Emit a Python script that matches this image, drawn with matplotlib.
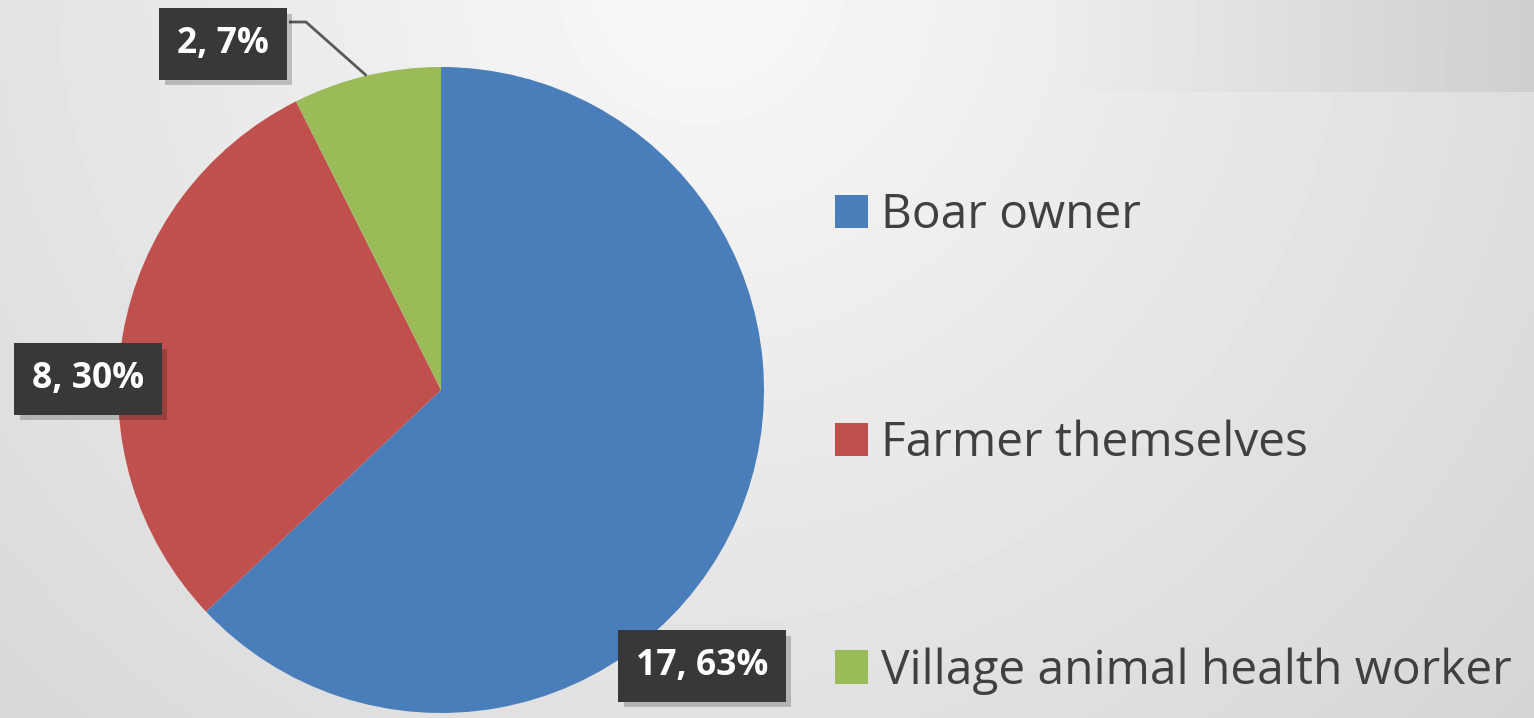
import numpy as np
import matplotlib.pyplot as plt
import matplotlib.patheffects as pe
from matplotlib.patches import Patch

labels = ["Boar owner", "Farmer themselves", "Village animal health worker"]
counts = [17, 8, 2]
colors = ["#4a7ebb", "#c0504d", "#9bbb59"]

W, H = 1534, 718
fig = plt.figure(figsize=(W / 100, H / 100), dpi=100)

# soft grey slide background
bg = fig.add_axes([0, 0, 1, 1])
xx, yy = np.meshgrid(np.arange(W), np.arange(H))
r = np.sqrt(((xx - 700) / 800.0) ** 2 + ((yy + 20) / 800.0) ** 2)
v = 0.975 - 0.1 * r
strip = (yy < 92) * np.clip((xx - 1050) / 480.0, 0, 1) * 0.06
v = v - strip
bg.imshow(v, cmap="gray", vmin=0, vmax=1, extent=(0, W, H, 0), aspect="auto")
bg.axis("off")

ax = fig.add_axes([0, 0, 1, 1])
ax.patch.set_alpha(0)
cx, cy, rad = 441, H - 390, 323
wedges, _ = ax.pie(counts, colors=colors, startangle=90, counterclock=False,
                   center=(cx, cy), radius=rad, wedgeprops=dict(linewidth=0))
ax.set_xlim(0, W)
ax.set_ylim(0, H)
ax.set_aspect("equal")
ax.axis("off")

total = sum(counts)
pcts = [round(c * 100 / total) for c in counts]
label_pos = [(702, H - 666), (88, H - 379), (223, H - 44)]

font = "Open Sans"
for w, c, p, (lx, ly) in zip(wedges, counts, pcts, label_pos):
    t = ax.text(lx, ly, f"{c}, {p}%", ha="center", va="center", fontsize=25.5,
                fontweight="bold", family=font, color="white",
                bbox=dict(boxstyle="square,pad=0.5", fc="#383838", ec="none"))
    t.get_bbox_patch().set_path_effects(
        [pe.withSimplePatchShadow(offset=(4, -4), shadow_rgbFace="black", alpha=0.2)])

# leader line for the small slice
g = wedges[2]
mid = np.deg2rad((g.theta1 + g.theta2) / 2)
ex, ey = cx + rad * np.cos(mid), cy + rad * np.sin(mid)
ax.plot([289, 306, ex], [H - 22, H - 22, ey], color="#595959", lw=2,
        solid_capstyle="butt")

handles = [Patch(facecolor=col, edgecolor="none") for col in colors]
leg = ax.legend(handles, labels, loc="upper left", bbox_to_anchor=(835 / W, 1 - 192 / H),
                frameon=False, prop=dict(family=font, size=34.5),
                handlelength=0.69, handleheight=0.69, handletextpad=0.28,
                labelspacing=3.76, borderpad=0, borderaxespad=0)
for t in leg.get_texts():
    t.set_color("#404040")

fig.savefig("out.png", dpi=100)
